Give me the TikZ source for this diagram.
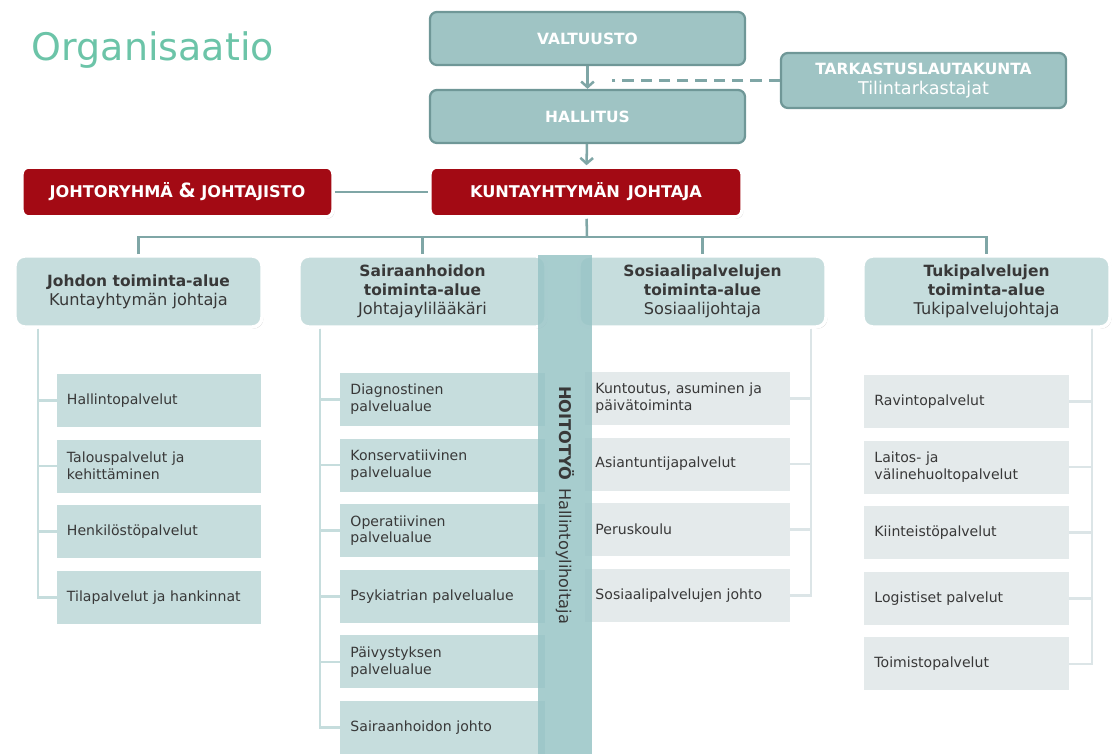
\documentclass[tikz,border=0pt]{standalone}
\usepackage{fontspec}
\setmainfont{DejaVu Sans}
\usetikzlibrary{shadows,arrows.meta,positioning}
\definecolor{tealbox}{HTML}{9FC4C4}
\definecolor{tealdark}{HTML}{6F9797}
\definecolor{tealline}{HTML}{7FA6A6}
\definecolor{lightteal}{HTML}{C6DDDD}
\definecolor{lightgrey}{HTML}{E4EAEB}
\definecolor{greyline}{HTML}{DCE5E7}
\definecolor{boxred}{HTML}{A30A14}
\definecolor{titlegreen}{HTML}{6CC4A8}
\definecolor{banddark}{HTML}{98C4C6}
\definecolor{darktext}{HTML}{383838}

\begin{document}
\begin{tikzpicture}[x=0.025cm,y=-0.025cm,
  topbox/.style={rectangle,rounded corners=5pt,draw=tealdark,line width=1.6pt,fill=tealbox,text=white,align=center,minimum width=7.875cm,minimum height=1.325cm},
  redbox/.style={rectangle,rounded corners=5pt,draw=white,line width=2.5pt,fill=boxred,text=white,font=\bfseries\fontsize{11.5}{13}\selectfont,minimum height=1.25cm,drop shadow={shadow xshift=1pt,shadow yshift=-1.2pt,opacity=0.3}},
  areabox/.style={rectangle,rounded corners=7pt,draw=white,line width=2.5pt,fill=lightteal,text=darktext,align=center,font=\fontsize{11.5}{13.5}\selectfont,minimum width=6.175cm,minimum height=1.775cm,drop shadow={shadow xshift=1pt,shadow yshift=-1.2pt,opacity=0.3}},
  subbox/.style={rectangle,fill=lightteal,text=darktext,align=left,font=\fontsize{10}{12}\selectfont,inner xsep=0.25cm,text width=4.6cm,minimum height=1.325cm},
  greybox/.style={subbox,fill=lightgrey},
  bus/.style={draw=tealline,line width=1.8pt},
  subline/.style={draw=lightteal,line width=1.8pt},
  greysub/.style={draw=greyline,line width=1.8pt}
]
\useasboundingbox (0,0) rectangle (1115,754);

\node[text=titlegreen,font=\fontsize{27}{30}\selectfont,anchor=west] (otsikko) at (27,50) {Organisaatio};

\node[topbox,font=\bfseries\fontsize{11}{12}\selectfont] (valtuusto) at (587.5,38.5) {VALTUUSTO};
\node[topbox,font=\bfseries\fontsize{11}{12}\selectfont] (hallitus) at (587.5,116.5) {HALLITUS};
\node[topbox,minimum width=7.125cm,minimum height=1.375cm,font=\fontsize{12.5}{14}\selectfont] (tarkastus) at (923.5,80.5) {{\bfseries\fontsize{11}{14}\selectfont TARKASTUSLAUTAKUNTA}\\Tilintarkastajat};

\node[redbox,minimum width=7.775cm] (johtoryhma) at (177.5,192) {JOHTORYHMÄ {\fontsize{14}{14}\selectfont\&} JOHTAJISTO};
\node[redbox,minimum width=7.8cm] (kjohtaja) at (586,192) {KUNTAYHTYMÄN\enspace JOHTAJA};

\coordinate (katko) at (612,80.5);
\coordinate (bus) at (587,237);

\draw[tealline,line width=1.8pt,-{Straight Barb[length=4pt,width=9pt]}] (valtuusto) -- (hallitus);
\draw[tealline,line width=1.8pt,-{Straight Barb[length=4pt,width=9pt]}] (hallitus) -- (kjohtaja);
\draw[tealline,line width=1.8pt,dash pattern=on 8pt off 5pt] (tarkastus.west) -- (katko);
\draw[bus] (johtoryhma) -- (kjohtaja);

\node[areabox] (johdon) at (138.5,291.5) {{\bfseries\fontsize{11}{13.5}\selectfont Johdon toiminta-alue}\\Kuntayhtymän johtaja};
\node[areabox] (sairaan) at (422.5,291.5) {{\bfseries\fontsize{11}{13.5}\selectfont Sairaanhoidon}\\{\bfseries\fontsize{11}{13.5}\selectfont toiminta-alue}\\Johtajaylilääkäri};
\node[areabox] (sosiaali) at (702.5,291.5) {{\bfseries\fontsize{11}{13.5}\selectfont Sosiaalipalvelujen}\\{\bfseries\fontsize{11}{13.5}\selectfont toiminta-alue}\\Sosiaalijohtaja};
\node[areabox] (tuki) at (986.5,291.5) {{\bfseries\fontsize{11}{13.5}\selectfont Tukipalvelujen}\\{\bfseries\fontsize{11}{13.5}\selectfont toiminta-alue}\\Tukipalvelujohtaja};

\draw[bus] (kjohtaja) -- (bus);
\draw[bus] (johdon.north) |- (bus) -| (tuki.north);
\draw[bus] (sairaan.north) -- (sairaan.north |- bus);
\draw[bus] (sosiaali.north) -- (sosiaali.north |- bus);

\node[subbox] (hallinto) at (159,400.5) {Hallintopalvelut};
\node[subbox,below=0.3cm of hallinto] (talous) {Talouspalvelut ja\\kehittäminen};
\node[subbox,below=0.3cm of talous] (henkilosto) {Henkilöstöpalvelut};
\node[subbox,below=0.3cm of henkilosto] (tila) {Tilapalvelut ja hankinnat};

\node[subbox] (diagno) at (442.5,399.5) {Diagnostinen\\palvelualue};
\node[subbox,below=0.3cm of diagno] (konserv) {Konservatiivinen\\palvelualue};
\node[subbox,below=0.3cm of konserv] (operat) {Operatiivinen\\palvelualue};
\node[subbox,below=0.3cm of operat] (psyk) {Psykiatrian palvelualue};
\node[subbox,below=0.3cm of psyk] (paivys) {Päivystyksen\\palvelualue};
\node[subbox,below=0.3cm of paivys] (shjohto) {Sairaanhoidon johto};

\node[greybox] (kuntoutus) at (687.5,398.5) {Kuntoutus, asuminen ja\\päivätoiminta};
\node[greybox,below=0.3cm of kuntoutus] (asiantuntija) {Asiantuntijapalvelut};
\node[greybox,below=0.3cm of asiantuntija] (perus) {Peruskoulu};
\node[greybox,below=0.3cm of perus] (spjohto) {Sosiaalipalvelujen johto};

\node[greybox] (ravinto) at (966.5,401.5) {Ravintopalvelut};
\node[greybox,below=0.3cm of ravinto] (laitos) {Laitos- ja\\välinehuoltopalvelut};
\node[greybox,below=0.3cm of laitos] (kiinteisto) {Kiinteistöpalvelut};
\node[greybox,below=0.3cm of kiinteisto] (logist) {Logistiset palvelut};
\node[greybox,below=0.3cm of logist] (toimisto) {Toimistopalvelut};

\draw[subline] ([xshift=0.625cm]johdon.south west) |- (hallinto.west);
\draw[subline] ([xshift=0.625cm]johdon.south west) |- (talous.west);
\draw[subline] ([xshift=0.625cm]johdon.south west) |- (henkilosto.west);
\draw[subline] ([xshift=0.625cm]johdon.south west) |- (tila.west);

\draw[subline] ([xshift=0.575cm]sairaan.south west) |- (diagno.west);
\draw[subline] ([xshift=0.575cm]sairaan.south west) |- (konserv.west);
\draw[subline] ([xshift=0.575cm]sairaan.south west) |- (operat.west);
\draw[subline] ([xshift=0.575cm]sairaan.south west) |- (psyk.west);
\draw[subline] ([xshift=0.575cm]sairaan.south west) |- (paivys.west);
\draw[subline] ([xshift=0.575cm]sairaan.south west) |- (shjohto.west);

\draw[greysub] ([xshift=-0.425cm]sosiaali.south east) |- (kuntoutus.east);
\draw[greysub] ([xshift=-0.425cm]sosiaali.south east) |- (asiantuntija.east);
\draw[greysub] ([xshift=-0.425cm]sosiaali.south east) |- (perus.east);
\draw[greysub] ([xshift=-0.425cm]sosiaali.south east) |- (spjohto.east);

\draw[greysub] ([xshift=-0.5cm]tuki.south east) |- (ravinto.east);
\draw[greysub] ([xshift=-0.5cm]tuki.south east) |- (laitos.east);
\draw[greysub] ([xshift=-0.5cm]tuki.south east) |- (kiinteisto.east);
\draw[greysub] ([xshift=-0.5cm]tuki.south east) |- (logist.east);
\draw[greysub] ([xshift=-0.5cm]tuki.south east) |- (toimisto.east);

\fill[banddark,opacity=0.85] (538,255) rectangle (592,754);
\node[rotate=-90,text=darktext,font=\fontsize{11.5}{12}\selectfont] (hoitotyo) at (565,505) {\textbf{HOITOTYÖ}\enspace Hallintoylihoitaja};
\end{tikzpicture}
\end{document}
